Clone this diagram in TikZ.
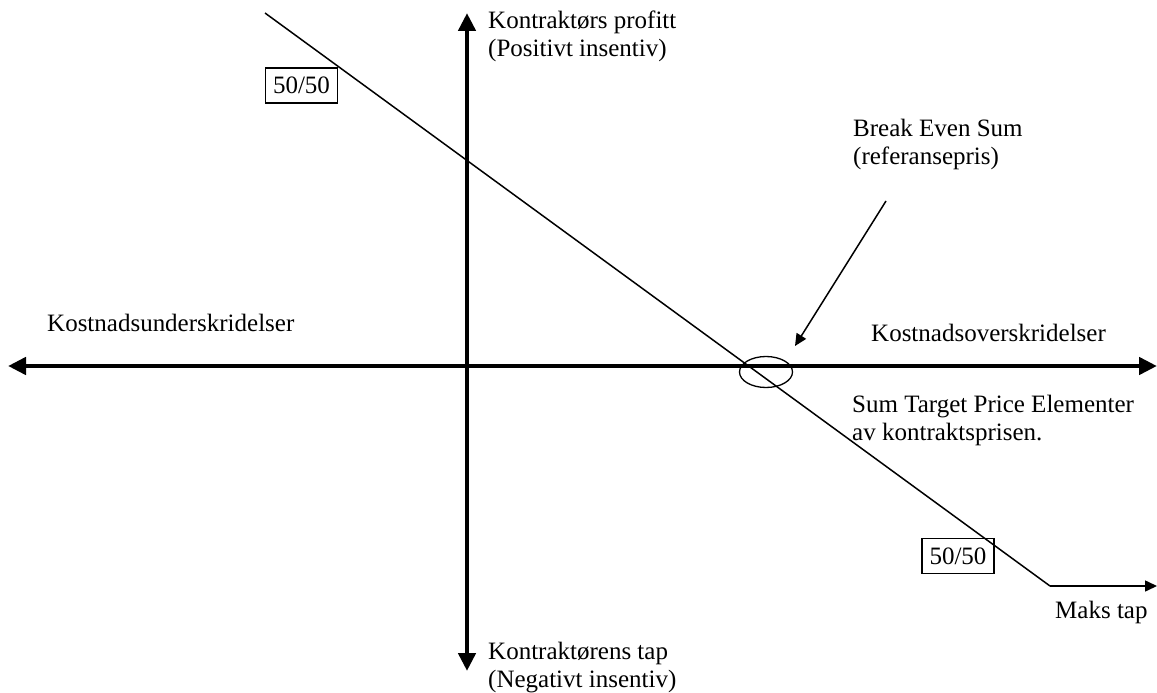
\documentclass[tikz,border=0pt]{standalone}
\usepackage{fontspec}
\setmainfont{Liberation Serif}
\usetikzlibrary{arrows.meta,shapes.geometric}
\tikzset{
  lbl/.style={anchor=base west, inner sep=0pt, font=\fontsize{25}{28}\selectfont},
  axis/.style={line width=4.5pt, -{Triangle[length=18pt,width=17pt]}},
  thin/.style={line width=1.5pt},
  thinarrow/.style={line width=1.5pt, -{Triangle[length=12pt,width=11pt]}},
  ratio/.style={draw, line width=1.3pt, inner sep=0pt, minimum width=72pt, minimum height=35pt, font=\fontsize{25}{28}\selectfont}
}
\begin{document}
\begin{tikzpicture}[x=1pt,y=-1pt]
\useasboundingbox (0,0) rectangle (1157,693);
% axis end points
\coordinate (hl) at (8,366);
\coordinate (hr) at (1157,366);
\coordinate (o) at (467,366);
\coordinate (vt) at (467,13);
\coordinate (vb) at (467,671);
\draw[axis] (o) -- (hl);
\draw[axis] (o) -- (hr);
\draw[axis] (o) -- (vt);
\draw[axis] (o) -- (vb);
% diagonal
\coordinate (ds) at (265,13);
\coordinate (de) at (1050,586);
\coordinate (me) at (1157,586);
\draw[thin] (ds) -- (de);
\draw[thinarrow] (de) -- (me);
% break even
\node[draw, ellipse, line width=1.3pt, minimum width=53pt, minimum height=31pt, inner sep=0pt] (be) at (766,372) {};
\coordinate (bs) at (886,201);
\coordinate (bt) at (795,346);
\draw[thinarrow] (bs) -- (bt);
% boxes
\node[ratio] (r1) at (301.5,85.5) {50/50};
\node[ratio] (r2) at (958,556) {50/50};
% labels
\node[lbl] (kp1) at (488,29) {Kontraktørs profitt};
\node[lbl] (kp2) at (488,57) {(Positivt insentiv)};
\node[lbl] (bes1) at (853,136) {Break Even Sum};
\node[lbl] (bes2) at (853,164) {(referansepris)};
\node[lbl] (ku) at (47,331) {Kostnadsunderskridelser};
\node[lbl] (ko) at (871,341) {Kostnadsoverskridelser};
\node[lbl] (st1) at (852,412) {Sum Target Price Elementer};
\node[lbl] (st2) at (852,440) {av kontraktsprisen.};
\node[lbl] (mt) at (1055,618) {Maks tap};
\node[lbl] (kt1) at (488,659) {Kontraktørens tap};
\node[lbl] (kt2) at (488,687) {(Negativt insentiv)};
\end{tikzpicture}
\end{document}
